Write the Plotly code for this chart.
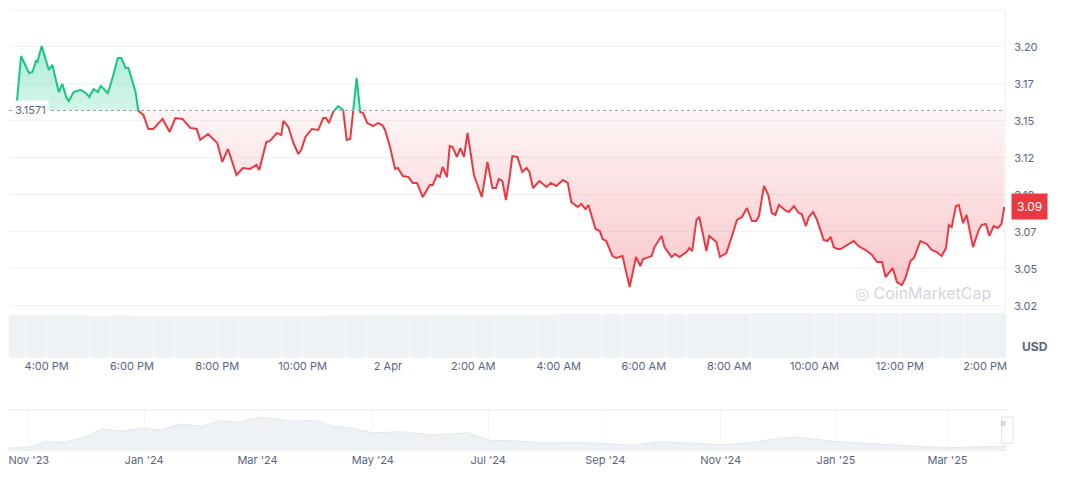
import numpy as np
import pandas as pd
import plotly.graph_objects as go

# minutes after 1 Apr 2025 15:00 and price in USD
minutes = [18, 24, 35, 40, 45, 47, 53, 63, 68, 77, 82, 88, 91, 98, 108, 115, 120, 126, 132, 136,
           146, 153, 160, 165, 171, 175, 185, 189, 196, 203, 210, 216, 223, 233, 241, 251, 262, 271, 276, 287,
           300, 307, 315, 327, 336, 346, 355, 359, 369, 374, 384, 390, 393, 400, 407, 414, 418, 424, 433, 442,
           449, 453, 457, 463, 470, 477, 482, 487, 491, 496, 501, 505, 511, 519, 526, 532, 536, 543, 550, 554,
           561, 569, 575, 581, 589, 599, 603, 609, 613, 617, 623, 627, 631, 637, 642, 647, 652, 661, 672, 680,
           687, 692, 696, 701, 706, 711, 715, 722, 729, 735, 739, 744, 753, 763, 769, 777, 786, 793, 798, 807,
           812, 818, 822, 832, 838, 842, 847, 856, 861, 870, 880, 889, 895, 899, 911, 915, 919, 925, 929, 939,
           944, 950, 960, 964, 968, 974, 978, 988, 992, 1002, 1007, 1016, 1024, 1031, 1038, 1045, 1052, 1058, 1062, 1069,
           1075, 1080, 1085, 1090, 1100, 1104, 1111, 1118, 1122, 1128, 1132, 1138, 1143, 1153, 1158, 1163, 1167, 1172, 1177, 1186,
           1195, 1202, 1212, 1221, 1228, 1235, 1240, 1250, 1256, 1263, 1268, 1275, 1280, 1289, 1298, 1305, 1312, 1319, 1325, 1329,
           1333, 1339, 1343, 1349, 1354, 1363, 1371, 1375, 1381, 1386, 1392, 1398, 1403, 1407]
prices = [3.1628, 3.1939, 3.1824, 3.1831, 3.1906, 3.1899, 3.2007, 3.1845, 3.1879, 3.1696, 3.1750, 3.1655, 3.1635, 3.1696, 3.1710, 3.1689, 3.1662, 3.1716, 3.1696, 3.1737,
          3.1689, 3.1797, 3.1926, 3.1926, 3.1858, 3.1858, 3.1696, 3.1568, 3.1541, 3.1446, 3.1446, 3.1480, 3.1514, 3.1426, 3.1520, 3.1514, 3.1453, 3.1446, 3.1372, 3.1412,
          3.1351, 3.1223, 3.1311, 3.1135, 3.1182, 3.1176, 3.1203, 3.1169, 3.1358, 3.1365, 3.1419, 3.1405, 3.1500, 3.1459, 3.1351, 3.1277, 3.1304, 3.1392, 3.1446, 3.1439,
          3.1520, 3.1520, 3.1486, 3.1561, 3.1601, 3.1574, 3.1372, 3.1378, 3.1561, 3.1791, 3.1561, 3.1554, 3.1486, 3.1466, 3.1486, 3.1473, 3.1439, 3.1324, 3.1176, 3.1182,
          3.1128, 3.1121, 3.1081, 3.1081, 3.0986, 3.1067, 3.1067, 3.1135, 3.1121, 3.1189, 3.1121, 3.1331, 3.1324, 3.1257, 3.1317, 3.1257, 3.1419, 3.1135, 3.0986, 3.1223,
          3.1047, 3.1047, 3.1108, 3.1094, 3.0966, 3.1115, 3.1263, 3.1257, 3.1155, 3.1182, 3.1155, 3.1047, 3.1094, 3.1054, 3.1081, 3.1061, 3.1101, 3.1081, 3.0952, 3.0919,
          3.0939, 3.0905, 3.0932, 3.0770, 3.0756, 3.0702, 3.0689, 3.0587, 3.0574, 3.0587, 3.0378, 3.0581, 3.0520, 3.0567, 3.0587, 3.0648, 3.0675, 3.0723, 3.0648, 3.0581,
          3.0601, 3.0581, 3.0614, 3.0641, 3.0621, 3.0831, 3.0851, 3.0621, 3.0723, 3.0682, 3.0581, 3.0608, 3.0723, 3.0831, 3.0851, 3.0912, 3.0824, 3.0824, 3.0858, 3.1061,
          3.1000, 3.0878, 3.0865, 3.0932, 3.0892, 3.0885, 3.0925, 3.0878, 3.0871, 3.0790, 3.0851, 3.0885, 3.0838, 3.0696, 3.0689, 3.0716, 3.0648, 3.0635, 3.0635, 3.0662,
          3.0689, 3.0655, 3.0628, 3.0594, 3.0547, 3.0547, 3.0445, 3.0506, 3.0412, 3.0391, 3.0439, 3.0554, 3.0574, 3.0689, 3.0669, 3.0628, 3.0614, 3.0587, 3.0641, 3.0797,
          3.0783, 3.0925, 3.0932, 3.0810, 3.0865, 3.0648, 3.0763, 3.0797, 3.0804, 3.0723, 3.0790, 3.0777, 3.0804, 3.0919]
base_price = 3.1571

# volume, every 30 minutes
volume = [0.95, 0.96, 0.95, 0.95, 0.94, 0.95, 0.94, 0.94, 0.93, 0.94, 0.94, 0.93, 0.93, 0.94, 0.94, 0.95,
          0.95, 0.95, 0.96, 0.96, 0.95, 0.95, 0.96, 0.96, 0.96, 0.96, 0.97, 0.97, 0.97, 0.97, 0.97, 0.98,
          0.98, 0.98, 0.98, 0.99, 0.99, 0.99, 0.99, 1.0, 0.99, 0.99, 0.99, 0.99, 0.99, 0.99, 0.99]

# overview navigator
nav_dates = ["2023-10-21", "2023-11-01", "2023-11-10", "2023-11-20", "2023-12-01", "2023-12-10", "2023-12-20",
             "2024-01-01", "2024-01-10", "2024-01-20", "2024-02-01", "2024-02-10", "2024-02-20", "2024-03-01",
             "2024-03-10", "2024-03-20", "2024-04-01", "2024-04-10", "2024-04-20", "2024-05-01", "2024-05-15",
             "2024-06-01", "2024-06-10", "2024-06-20", "2024-07-01", "2024-07-15", "2024-08-01", "2024-08-15",
             "2024-09-01", "2024-09-15", "2024-10-01", "2024-10-15", "2024-11-01", "2024-11-15", "2024-12-01",
             "2024-12-10", "2024-12-20", "2025-01-01", "2025-01-15", "2025-02-01", "2025-02-15", "2025-03-01",
             "2025-03-15", "2025-04-01"]
nav_values = [0.05, 0.07, 0.22, 0.20, 0.35, 0.55, 0.50, 0.58, 0.52, 0.68, 0.62, 0.78, 0.72, 0.85,
              0.82, 0.75, 0.78, 0.62, 0.58, 0.45, 0.48, 0.40, 0.42, 0.45, 0.26, 0.24, 0.18, 0.20,
              0.17, 0.12, 0.22, 0.18, 0.14, 0.18, 0.30, 0.34, 0.28, 0.22, 0.18, 0.12, 0.09, 0.06,
              0.08, 0.10]

t0 = pd.Timestamp("2025-04-01 15:00")
times = [t0 + pd.Timedelta(minutes=m) for m in minutes]
vol_times = [t0 + pd.Timedelta(minutes=15 + 30 * i) for i in range(len(volume))]

GREEN = "#16c784"
RED = "#ea3943"
GREY = "#58667e"

# split series at baseline crossings
xs, ys = [], []
for i in range(len(prices)):
    if i > 0 and (prices[i - 1] - base_price) * (prices[i] - base_price) < 0:
        f = (base_price - prices[i - 1]) / (prices[i] - prices[i - 1])
        xs.append(times[i - 1] + (times[i] - times[i - 1]) * f)
        ys.append(base_price)
    xs.append(times[i])
    ys.append(prices[i])
ys = np.array(ys)
up = np.where(ys >= base_price, ys, np.nan)
down = np.where(ys <= base_price, ys, np.nan)

fig = go.Figure()

fig.add_trace(go.Bar(x=vol_times, y=volume, yaxis="y2", marker=dict(color="#eff2f5", line=dict(width=0)),
                     width=30 * 60 * 1000 * 0.97, hoverinfo="skip"))

fig.add_trace(go.Scatter(x=xs, y=[base_price] * len(xs), mode="lines", line=dict(width=0), hoverinfo="skip"))
fig.add_trace(go.Scatter(x=xs, y=np.maximum(ys, base_price), mode="lines", line=dict(width=0), fill="tonexty",
                         fillgradient=dict(type="vertical", colorscale=[[0, "rgba(22,199,132,0.18)"], [1, "rgba(22,199,132,0.35)"]]),
                         hoverinfo="skip"))
fig.add_trace(go.Scatter(x=xs, y=[base_price] * len(xs), mode="lines", line=dict(width=0), hoverinfo="skip"))
fig.add_trace(go.Scatter(x=xs, y=np.minimum(ys, base_price), mode="lines", line=dict(width=0), fill="tonexty",
                         fillgradient=dict(type="vertical", colorscale=[[0, "rgba(234,57,67,0.28)"], [1, "rgba(234,57,67,0.05)"]]),
                         hoverinfo="skip"))
fig.add_trace(go.Scatter(x=xs, y=down, mode="lines", line=dict(color=RED, width=2), connectgaps=False))
fig.add_trace(go.Scatter(x=xs, y=up, mode="lines", line=dict(color=GREEN, width=2), connectgaps=False))

fig.add_trace(go.Scatter(x=[pd.Timestamp(d) for d in nav_dates], y=nav_values, xaxis="x2", yaxis="y3",
                         mode="lines", line=dict(color="#e3e7ec", width=1),
                         fill="tozeroy", fillcolor="#eef1f5", hoverinfo="skip"))

x_ticks = [t0 + pd.Timedelta(hours=h) for h in range(1, 24, 2)]
x_text = ["4:00 PM", "6:00 PM", "8:00 PM", "10:00 PM", "2 Apr", "2:00 AM", "4:00 AM", "6:00 AM",
          "8:00 AM", "10:00 AM", "12:00 PM", "2:00 PM"]
nav_ticks = ["2023-11-01", "2024-01-01", "2024-03-01", "2024-05-01", "2024-07-01", "2024-09-01",
             "2024-11-01", "2025-01-01", "2025-03-01"]
nav_text = ["Nov '23", "Jan '24", "Mar '24", "May '24", "Jul '24", "Sep '24", "Nov '24", "Jan '25", "Mar '25"]

font = dict(family="Inter, Roboto, sans-serif", size=11, color=GREY)
fig.update_layout(
    width=1064, height=469, showlegend=False, plot_bgcolor="white", paper_bgcolor="white",
    font=font, margin=dict(l=0, r=64, t=2, b=27),
    xaxis=dict(domain=[0.001, 0.997], range=[t0 + pd.Timedelta(minutes=7), t0 + pd.Timedelta(minutes=1408)],
               tickvals=x_ticks, ticktext=x_text, showgrid=False, ticks="", anchor="y", zeroline=False),
    yaxis=dict(domain=[0.209, 1], range=[2.9898, 3.225], side="right",
               tickvals=[3.025, 3.05, 3.075, 3.1, 3.125, 3.15, 3.175, 3.2],
               ticktext=["3.02", "3.05", "3.07", "3.10", "3.12", "3.15", "3.17", "3.20"],
               gridcolor="#eff2f5", showline=True, linecolor="#eff2f5", zeroline=False, ticklabelstandoff=6),
    yaxis2=dict(domain=[0.209, 1], range=[0, 7.7], overlaying="y", visible=False),
    xaxis2=dict(domain=[0, 1], range=[pd.Timestamp("2023-10-21"), pd.Timestamp("2025-04-02")], anchor="y3",
                tickvals=nav_ticks, ticktext=nav_text, showgrid=True, gridcolor="#f3f5f8",
                showline=True, linecolor="#eff2f5", mirror=True, ticks=""),
    yaxis3=dict(domain=[0, 0.091], range=[0, 1.05], visible=False),
    bargap=0,
)

fig.add_shape(type="line", xref="x", yref="y", x0=t0 + pd.Timedelta(minutes=7), x1=t0 + pd.Timedelta(minutes=1408),
              y0=base_price, y1=base_price, line=dict(color="#9aa3b1", width=1, dash="dot"))
fig.add_shape(type="line", xref="paper", yref="paper", x0=0.001, x1=0.997, y0=1, y1=1,
              line=dict(color="#eff2f5", width=1))
fig.add_shape(type="line", xref="paper", yref="paper", x0=0, x1=1, y0=0.091, y1=0.091,
              line=dict(color="#eff2f5", width=1))
fig.add_shape(type="rect", xref="paper", yref="paper", x0=0.9935, x1=1.005, y0=0.015, y1=0.075,
              line=dict(color="#dfe3e8", width=1), fillcolor="white")

fig.add_annotation(xref="paper", yref="y", x=0.004, y=base_price, text="3.1571", showarrow=False,
                   xanchor="left", bgcolor="white", font=dict(size=11, color=GREY), borderpad=2)
fig.add_annotation(xref="paper", yref="y", x=1.0, y=prices[-1], text="3.09", showarrow=False,
                   xanchor="left", xshift=3, bgcolor=RED, font=dict(size=12, color="white"), borderpad=5)
fig.add_annotation(xref="paper", yref="paper", x=1.0, y=0.213, text="<b>USD</b>", showarrow=False,
                   xanchor="left", xshift=12, font=dict(size=12, color=GREY))
fig.add_annotation(xref="paper", yref="paper", x=0.985, y=0.33, text="◎ CoinMarketCap", showarrow=False,
                   xanchor="right", font=dict(size=16, color="#cfd6df"))
fig.add_annotation(xref="paper", yref="paper", x=0.999, y=0.045, text="ıı", showarrow=False,
                   font=dict(size=9, color="#9aa3b1"))

fig.write_html("out.html")
